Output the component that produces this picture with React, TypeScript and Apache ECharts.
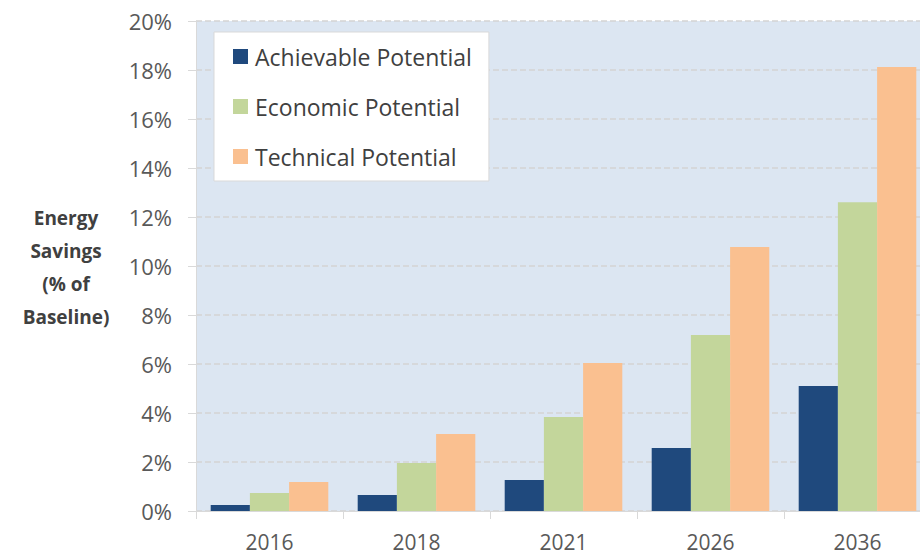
import React, { useEffect, useRef } from "react";
import * as echarts from "echarts";

const categories = ["2016", "2018", "2021", "2026", "2036"];
const achievable = [0.24, 0.65, 1.27, 2.57, 5.1];
const economic = [0.73, 1.96, 3.84, 7.18, 12.6];
const technical = [1.18, 3.14, 6.04, 10.78, 18.12];
const seriesNames = ["Achievable Potential", "Economic Potential", "Technical Potential"];
const colors = ["#1f497d", "#c3d69b", "#fac090"];
const yTicks = { min: 0, max: 20, interval: 2 };
const axisTitle = "Energy\nSavings\n(% of\nBaseline)";

const FONT = "'Open Sans', 'Noto Sans', sans-serif";

export default function App() {
  const ref = useRef<HTMLDivElement>(null);
  useEffect(() => {
    if (!ref.current) return;
    const chart = echarts.init(ref.current, undefined, { renderer: "svg" });
    const data = [achievable, economic, technical];
    chart.setOption({
      animation: false,
      textStyle: { fontFamily: FONT },
      grid: {
        left: 196,
        top: 21,
        width: 735,
        height: 490,
        show: true,
        backgroundColor: "#dce6f2",
        borderWidth: 0,
        containLabel: false,
        outerBoundsMode: "none",
      },
      legend: {
        orient: "vertical",
        left: 214,
        top: 32,
        backgroundColor: "#ffffff",
        borderColor: "#d9d9d9",
        borderWidth: 1,
        padding: [13, 17, 13, 19],
        itemGap: 27,
        itemWidth: 15,
        itemHeight: 15,
        itemStyle: { borderWidth: 0 },
        textStyle: { fontFamily: FONT, fontSize: 23, color: "#404040", padding: [0, 0, 0, 2] },
        data: seriesNames.map((n) => ({ name: n, icon: "rect" })),
      },
      xAxis: {
        type: "category",
        data: categories,
        boundaryGap: true,
        axisLine: { show: true, lineStyle: { color: "#d9d9d9", width: 1 } },
        axisTick: { show: true, length: 8, lineStyle: { color: "#d9d9d9" } },
        axisLabel: { fontFamily: FONT, fontSize: 21, lineHeight: 21, color: "#595959", margin: 20 },
      },
      yAxis: {
        type: "value",
        min: yTicks.min,
        max: yTicks.max,
        interval: yTicks.interval,
        axisLine: { show: true, lineStyle: { color: "#d9d9d9", width: 1 } },
        axisTick: { show: true, length: 8, lineStyle: { color: "#d9d9d9" } },
        axisLabel: {
          fontFamily: FONT,
          fontSize: 22,
          color: "#595959",
          margin: 24,
          formatter: (v: number) => `${v}%`,
        },
        splitLine: { show: true, lineStyle: { color: "#d4d4d4", width: 1.5, type: [6, 3] } },
      },
      graphic: [
        {
          type: "text",
          x: 66,
          y: 267,
          style: {
            text: axisTitle,
            fontFamily: FONT,
            fontSize: 19,
            fontWeight: "bold",
            fill: "#404040",
            align: "center",
            verticalAlign: "middle",
            lineHeight: 33,
          },
        },
      ],
      series: seriesNames.map((name, i) => ({
        name,
        type: "bar",
        data: data[i],
        barGap: "0%",
        barCategoryGap: "20%",
        itemStyle: { color: colors[i] },
      })),
    });
    return () => chart.dispose();
  }, []);
  return (
    <div
      ref={ref}
      style={{ position: "absolute", left: 0, top: 0, width: 920, height: 557, overflow: "hidden" }}
    />
  );
}
